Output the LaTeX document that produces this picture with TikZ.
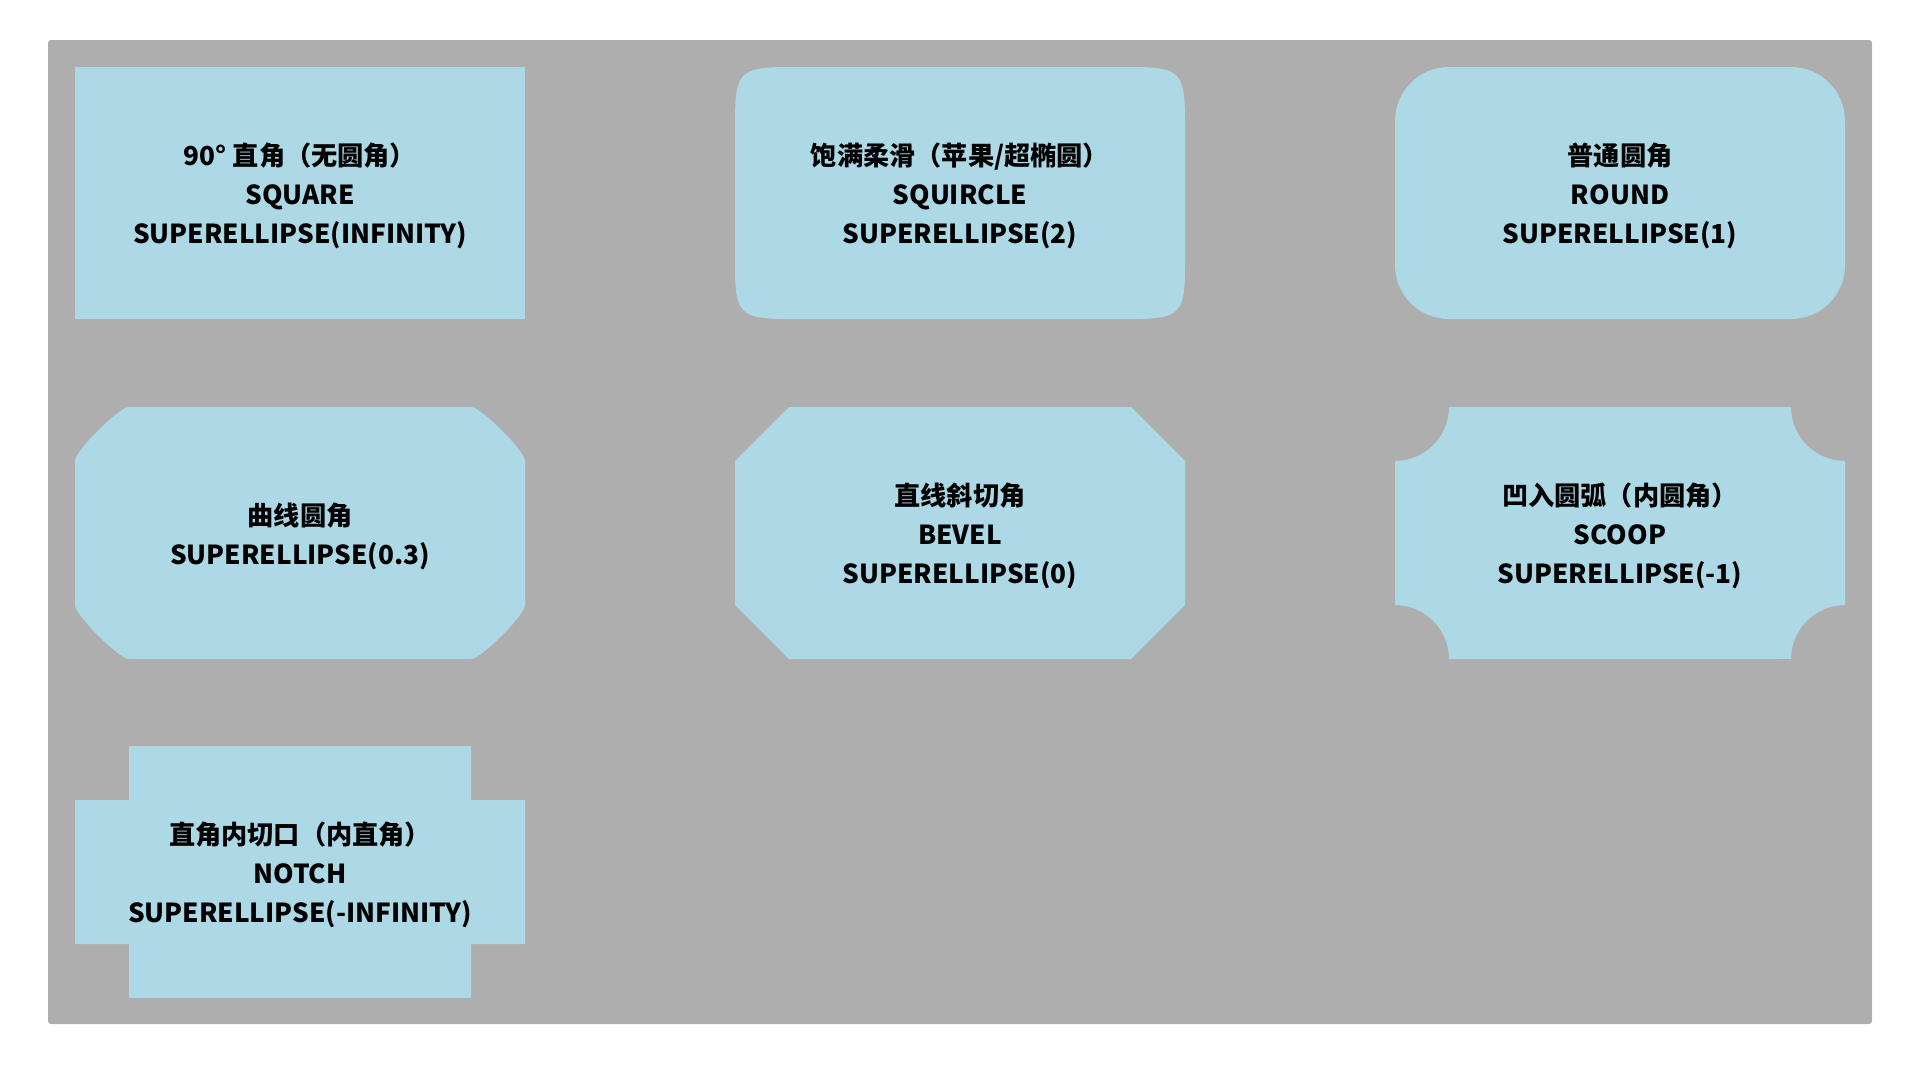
\documentclass[tikz,border=0pt]{standalone}
\usepackage{fontspec}
\setmainfont{Noto Sans CJK SC}
\usepackage{tikz}
\definecolor{panelgray}{RGB}{174, 174, 174}
\definecolor{shapeblue}{RGB}{173, 216, 230}
\tikzset{
  shapetext/.style={align=center, text=black, font=\bfseries\fontsize{14.9}{22.2}\selectfont}
}
\begin{document}
\begin{tikzpicture}[x=0.02cm, y=-0.02cm]
            \useasboundingbox                                             (0, 0) rectangle (1920, 1065);
            \fill[panelgray, rounded corners=0.06cm]                      (48, 40) rectangle (1872, 1024);
            % row 1
            \fill[shapeblue]                                              (75, 67) rectangle (525, 319);
            \fill[shapeblue] (789, 67) -- (1131, 67) .. controls +(49.1, 0) and +(0, -49.1) .. (1185, 121)
                             -- (1185, 265) .. controls +(0, 49.1) and +(49.1, 0) .. (1131, 319)
                             -- (789, 319) .. controls +(-49.1, 0) and +(0, 49.1) .. (735, 265)
                             -- (735, 121) .. controls +(0, -49.1) and +(-49.1, 0) .. (789, 67) -- cycle;
            \fill[shapeblue, rounded corners=1.08cm]                      (1395, 67) rectangle (1845, 319);
            % row 2
            \fill[shapeblue] (129, 407) -- (471, 407) .. controls +(10, 0) and +(0, -10) .. (525, 461)
                             -- (525, 605) .. controls +(0, 10) and +(10, 0) .. (471, 659)
                             -- (129, 659) .. controls +(-10, 0) and +(0, 10) .. (75, 605)
                             -- (75, 461) .. controls +(0, -10) and +(-10, 0) .. (129, 407) -- cycle;
            \fill[shapeblue] (789, 407) -- (1131, 407) -- (1185, 461) -- (1185, 605)
                             -- (1131, 659) -- (789, 659) -- (735, 605) -- (735, 461) -- cycle;
            \fill[shapeblue] (1449, 407) -- (1791, 407) arc[start angle=180, end angle=270, radius=1.08cm]
                             -- (1845, 605) arc[start angle=90, end angle=180, radius=1.08cm]
                             -- (1449, 659) arc[start angle=0, end angle=90, radius=1.08cm]
                             -- (1395, 461) arc[start angle=-90, end angle=0, radius=1.08cm] -- cycle;
            % row 3
            \fill[shapeblue] (129, 746) -- (471, 746) -- (471, 800) -- (525, 800) -- (525, 944) -- (471, 944)
                             -- (471, 998) -- (129, 998) -- (129, 944) -- (75, 944) -- (75, 800) -- (129, 800) -- cycle;
            % labels
            \node[shapetext] (square)   at (300, 196)  {90° 直角（无圆角）\\SQUARE\\SUPERELLIPSE(INFINITY)};
            \node[shapetext] (squircle) at (960, 196)  {饱满柔滑（苹果/超椭圆）\\SQUIRCLE\\SUPERELLIPSE(2)};
            \node[shapetext] (round)    at (1620, 196) {普通圆角\\ROUND\\SUPERELLIPSE(1)};
            \node[shapetext] (curved)   at (300, 536)  {曲线圆角\\SUPERELLIPSE(0.3)};
            \node[shapetext] (bevel)    at (960, 536)  {直线斜切角\\BEVEL\\SUPERELLIPSE(0)};
            \node[shapetext] (scoop)    at (1620, 536) {凹入圆弧（内圆角）\\SCOOP\\SUPERELLIPSE(-1)};
            \node[shapetext] (notch)    at (300, 875)  {直角内切口（内直角）\\NOTCH\\SUPERELLIPSE(-INFINITY)};
\end{tikzpicture}
\end{document}
